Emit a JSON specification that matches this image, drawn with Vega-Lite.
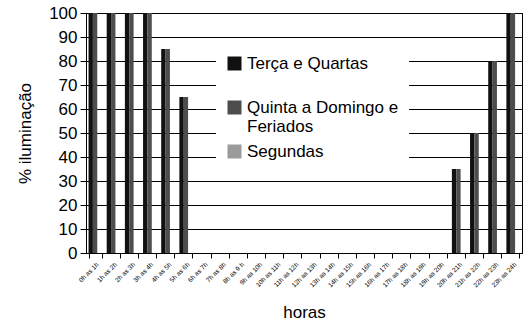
{
  "$schema": "https://vega.github.io/schema/vega-lite/v6.json",
  "width": 436,
  "height": 240,
  "autosize": "none",
  "padding": {"left": 86, "top": 13, "right": 2, "bottom": 71},
  "background": "white",
  "config": {
    "font": "Liberation Sans",
    "view": {"stroke": "black", "strokeWidth": 1},
    "axis": {"domainColor": "black", "tickColor": "black", "labelColor": "black", "titleColor": "black", "titleFontWeight": "normal"}
  },
  "data": {
    "values": [
      {"hora": "0h as 1h", "serie": "Terça e Quartas", "valor": 100},
      {"hora": "1h as 2h", "serie": "Terça e Quartas", "valor": 100},
      {"hora": "2h as 3h", "serie": "Terça e Quartas", "valor": 100},
      {"hora": "3h as 4h", "serie": "Terça e Quartas", "valor": 100},
      {"hora": "4h as 5h", "serie": "Terça e Quartas", "valor": 85},
      {"hora": "5h as 6h", "serie": "Terça e Quartas", "valor": 65},
      {"hora": "6h as 7h", "serie": "Terça e Quartas", "valor": 0},
      {"hora": "7h as 8h", "serie": "Terça e Quartas", "valor": 0},
      {"hora": "8h as 9 h", "serie": "Terça e Quartas", "valor": 0},
      {"hora": "9h as 10h", "serie": "Terça e Quartas", "valor": 0},
      {"hora": "10h as 11h", "serie": "Terça e Quartas", "valor": 0},
      {"hora": "11h as 12h", "serie": "Terça e Quartas", "valor": 0},
      {"hora": "12h as 13h", "serie": "Terça e Quartas", "valor": 0},
      {"hora": "13h as 14h", "serie": "Terça e Quartas", "valor": 0},
      {"hora": "14h as 15h", "serie": "Terça e Quartas", "valor": 0},
      {"hora": "15h as 16h", "serie": "Terça e Quartas", "valor": 0},
      {"hora": "16h as 17h", "serie": "Terça e Quartas", "valor": 0},
      {"hora": "17h as 18h", "serie": "Terça e Quartas", "valor": 0},
      {"hora": "18h as 19h", "serie": "Terça e Quartas", "valor": 0},
      {"hora": "19h as 20h", "serie": "Terça e Quartas", "valor": 0},
      {"hora": "20h as 21h", "serie": "Terça e Quartas", "valor": 35},
      {"hora": "21h as 22h", "serie": "Terça e Quartas", "valor": 50},
      {"hora": "22h as 23h", "serie": "Terça e Quartas", "valor": 80},
      {"hora": "23h as 24h", "serie": "Terça e Quartas", "valor": 100},
      {"hora": "0h as 1h", "serie": "Quinta a Domingo e Feriados", "valor": 100},
      {"hora": "1h as 2h", "serie": "Quinta a Domingo e Feriados", "valor": 100},
      {"hora": "2h as 3h", "serie": "Quinta a Domingo e Feriados", "valor": 100},
      {"hora": "3h as 4h", "serie": "Quinta a Domingo e Feriados", "valor": 100},
      {"hora": "4h as 5h", "serie": "Quinta a Domingo e Feriados", "valor": 85},
      {"hora": "5h as 6h", "serie": "Quinta a Domingo e Feriados", "valor": 65},
      {"hora": "6h as 7h", "serie": "Quinta a Domingo e Feriados", "valor": 0},
      {"hora": "7h as 8h", "serie": "Quinta a Domingo e Feriados", "valor": 0},
      {"hora": "8h as 9 h", "serie": "Quinta a Domingo e Feriados", "valor": 0},
      {"hora": "9h as 10h", "serie": "Quinta a Domingo e Feriados", "valor": 0},
      {"hora": "10h as 11h", "serie": "Quinta a Domingo e Feriados", "valor": 0},
      {"hora": "11h as 12h", "serie": "Quinta a Domingo e Feriados", "valor": 0},
      {"hora": "12h as 13h", "serie": "Quinta a Domingo e Feriados", "valor": 0},
      {"hora": "13h as 14h", "serie": "Quinta a Domingo e Feriados", "valor": 0},
      {"hora": "14h as 15h", "serie": "Quinta a Domingo e Feriados", "valor": 0},
      {"hora": "15h as 16h", "serie": "Quinta a Domingo e Feriados", "valor": 0},
      {"hora": "16h as 17h", "serie": "Quinta a Domingo e Feriados", "valor": 0},
      {"hora": "17h as 18h", "serie": "Quinta a Domingo e Feriados", "valor": 0},
      {"hora": "18h as 19h", "serie": "Quinta a Domingo e Feriados", "valor": 0},
      {"hora": "19h as 20h", "serie": "Quinta a Domingo e Feriados", "valor": 0},
      {"hora": "20h as 21h", "serie": "Quinta a Domingo e Feriados", "valor": 35},
      {"hora": "21h as 22h", "serie": "Quinta a Domingo e Feriados", "valor": 50},
      {"hora": "22h as 23h", "serie": "Quinta a Domingo e Feriados", "valor": 80},
      {"hora": "23h as 24h", "serie": "Quinta a Domingo e Feriados", "valor": 100},
      {"hora": "0h as 1h", "serie": "Segundas", "valor": 0},
      {"hora": "23h as 24h", "serie": "Segundas", "valor": 0}
    ]
  },
  "mark": {"type": "bar"},
  "encoding": {
    "x": {
      "field": "hora", "type": "nominal", "sort": null,
      "scale": {"paddingInner": 0.28, "paddingOuter": 0.14},
      "axis": {
        "title": "horas", "titleFontSize": 17, "titlePadding": 16,
        "labelAngle": -45, "labelFontSize": 6.5, "labelPadding": 3,
        "tickBand": "extent", "tickSize": 5, "grid": false
      }
    },
    "xOffset": {
      "field": "serie", "type": "nominal",
      "sort": ["Terça e Quartas", "Quinta a Domingo e Feriados", "Segundas"]
    },
    "y": {
      "field": "valor", "type": "quantitative",
      "scale": {"domain": [0, 100]},
      "axis": {
        "title": "% iluminação", "titleFontSize": 17, "titlePadding": 14,
        "values": [0, 10, 20, 30, 40, 50, 60, 70, 80, 90, 100],
        "labelFontSize": 17, "labelPadding": 3, "tickSize": 6,
        "grid": true, "gridColor": "black", "gridOpacity": 1
      }
    },
    "color": {
      "field": "serie", "type": "nominal",
      "scale": {
        "domain": ["Terça e Quartas", "Quinta a Domingo e Feriados", "Segundas"],
        "range": ["#111111", "#4d4d4d", "#9a9a9a"]
      },
      "legend": {
        "title": null, "orient": "none", "legendX": 130, "legendY": 32,
        "fillColor": "white", "padding": 10,
        "symbolType": "square", "symbolSize": 196, "symbolStrokeWidth": 0,
        "labelFontSize": 17, "labelOffset": 4, "labelLimit": 300, "labelColor": "black",
        "rowPadding": 7,
        "labelExpr": "datum.label == 'Quinta a Domingo e Feriados' ? ['Quinta a Domingo e', 'Feriados'] : datum.label == 'Terça e Quartas' ? ['Terça e Quartas', ' '] : datum.label"
      }
    }
  }
}
